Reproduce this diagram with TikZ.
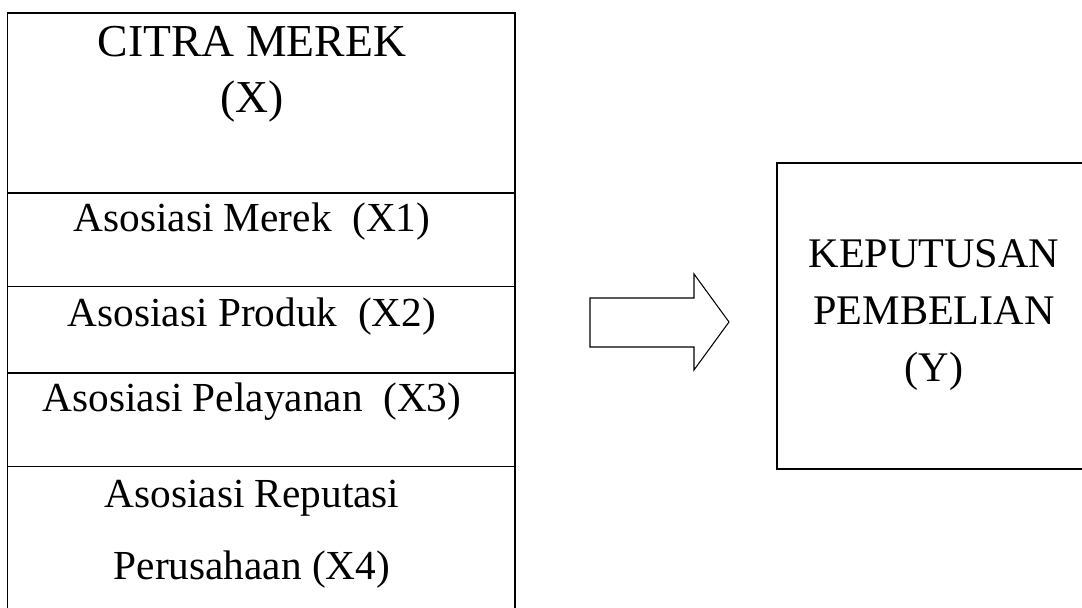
\documentclass[tikz,border=0pt]{standalone}
\usepackage{fontspec}
\setmainfont{Liberation Serif}
\usepackage{tikz}

\tikzset{
  kotak/.style={line width=1.1pt},
  teks/.style={anchor=base, align=center, inner sep=0pt, font=\fontsize{23.5}{41.5}\selectfont},
  judul/.style={anchor=base, align=center, inner sep=0pt, font=\fontsize{26}{32}\selectfont},
  teksy/.style={anchor=base, align=center, inner sep=0pt, font=\fontsize{24}{32.5}\selectfont}
}

\begin{document}
\begin{tikzpicture}
			\useasboundingbox (0,0) rectangle (21.64,12.16);
			\draw [kotak] (0.15,-0.7) -- (0.15,11.9) -- (10.3,11.9) -- (10.3,-0.7);
			\draw [kotak] (0.15,8.3) -- (10.3,8.3);
			\draw [kotak] (0.15,6.43) -- (10.3,6.43);
			\draw [kotak] (0.15,4.7) -- (10.3,4.7);
			\draw [kotak] (0.15,2.83) -- (10.3,2.83);
			\draw [line width=0.9pt] (15.54,2.78) rectangle (21.9,8.9);
			\draw [line width=0.6pt] (11.8,6.2) -- (13.88,6.2) -- (13.88,6.68) -- (14.58,5.72) -- (13.88,4.76) -- (13.88,5.22) -- (11.8,5.22) -- cycle;
			\node [judul] (citra) at (5.04,9.9) {CITRA MEREK\\(X)};
			\node [teks] (merek) at (5.04,7.52) {Asosiasi Merek~ (X1)};
			\node [teks] (produk) at (5.04,5.62) {Asosiasi Produk~ (X2)};
			\node [teks] (layan) at (5.04,3.92) {Asosiasi Pelayanan~ (X3)};
			\node [teks] (reputasi) at (5.04,0.56) {Asosiasi Reputasi\\Perusahaan (X4)};
			\node [teksy] (keputusan) at (18.68,4.52) {KEPUTUSAN\\PEMBELIAN\\(Y)};
		\end{tikzpicture}
\end{document}
